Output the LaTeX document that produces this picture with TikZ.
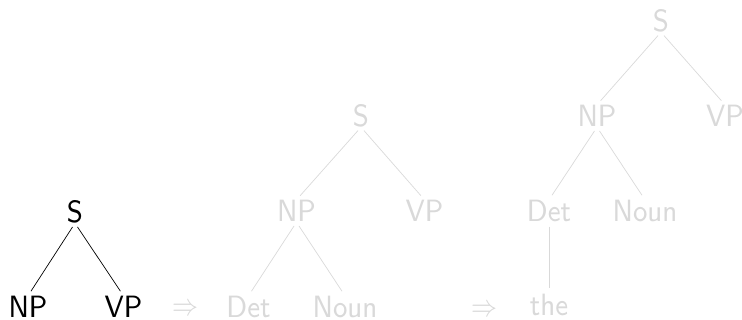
\documentclass[tikz,border=0pt]{standalone}
\usepackage{graphicx}
% small sans lettering, enlarged (slightly taller than wide)
\newcommand\tallbox[1]{\scalebox{3.4}[3.85]{#1}}
\tikzset{
  cat/.style={anchor=base, inner sep=0pt, text height=22pt, text depth=0pt,
              font=\fontsize{8}{10}\selectfont\sffamily},
  faded/.style={text=black!15},
  branch/.style={line width=0.7pt, shorten <=4.5pt, shorten >=5.5pt},
  fadedbranch/.style={branch, draw=black!15},
  derives/.style={anchor=center, inner sep=0pt, text=black!15,
                  font=\fontsize{10}{12}\selectfont},
}
\begin{document}
\begin{tikzpicture}[x=1pt, y=1pt]
  \useasboundingbox (0,0) rectangle (742,320);

  % first tree: S -> NP VP
  \node[cat] (s1)  at (75,97)   {\tallbox{S}};
  \node[cat] (np1) at (28,2)    {\tallbox{NP}};
  \node[cat] (vp1) at (123.5,2) {\tallbox{VP}};
  \draw[branch] (s1.south) -- (np1.north);
  \draw[branch] (s1.south) -- (vp1.north);

  \node[derives] (d1) at (185,10) {\scalebox{2.6}[3.1]{$\Rightarrow$}};

  % second tree: NP expanded
  \node[cat, faded] (s2)   at (361,193)   {\tallbox{S}};
  \node[cat, faded] (np2)  at (296.5,98)  {\tallbox{NP}};
  \node[cat, faded] (vp2)  at (424.5,98)  {\tallbox{VP}};
  \node[cat, faded] (det2) at (248.5,2)   {\tallbox{Det}};
  \node[cat, faded] (n2)   at (345,2)     {\tallbox{Noun}};
  \draw[fadedbranch] (s2.south) -- (np2.north);
  \draw[fadedbranch] (s2.south) -- (vp2.north);
  \draw[fadedbranch] (np2.south) -- (det2.north);
  \draw[fadedbranch] (np2.south) -- (n2.north);

  \node[derives] (d2) at (484.5,9) {\scalebox{2.6}[3.1]{$\Rightarrow$}};

  % third tree: Det rewritten to "the"
  \node[cat, faded] (s3)   at (661,288) {\tallbox{S}};
  \node[cat, faded] (np3)  at (597,193) {\tallbox{NP}};
  \node[cat, faded] (vp3)  at (725,193) {\tallbox{VP}};
  \node[cat, faded] (det3) at (549,98)  {\tallbox{Det}};
  \node[cat, faded] (n3)   at (645,98)  {\tallbox{Noun}};
  \node[cat, faded] (the3) at (549,4)   {\tallbox{the}};
  \draw[fadedbranch] (s3.south) -- (np3.north);
  \draw[fadedbranch] (s3.south) -- (vp3.north);
  \draw[fadedbranch] (np3.south) -- (det3.north);
  \draw[fadedbranch] (np3.south) -- (n3.north);
  \draw[fadedbranch] (det3.south) -- (the3.north);
\end{tikzpicture}
\end{document}
